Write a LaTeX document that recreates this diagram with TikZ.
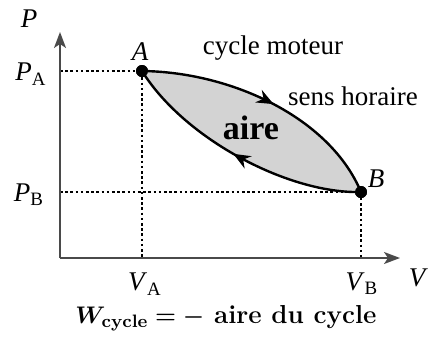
\documentclass[tikz,border=0pt]{standalone}
\usepackage{bm}
\usepackage[no-math]{fontspec}
\setmainfont{Liberation Serif}
\newfontfamily\lmfont{Latin Modern Roman}
\usetikzlibrary{arrows.meta,decorations.markings}
\definecolor{axisgray}{HTML}{4A4A4A}
\definecolor{cyclefill}{HTML}{D3D3D3}

\begin{document}
\begin{tikzpicture}[
        x=0.5pt,y=-0.5pt,
        axis/.style={draw=axisgray,line width=0.9pt,-{Stealth[length=8pt,width=6pt,inset=2pt]}},
        guide/.style={draw=black,line width=0.55pt,dash pattern=on 1.3pt off 1.3pt},
        curve/.style={draw=black,line width=1.2pt},
        dot/.style={circle,fill=black,inner sep=0pt,minimum size=6pt},
        lbl/.style={font=\fontsize{13.5}{15}\selectfont,inner sep=1pt},
        txt/.style={font=\fontsize{13.5}{15}\selectfont,inner sep=1pt},
        bigtxt/.style={font=\fontsize{17}{19}\selectfont\bfseries,inner sep=1pt},
        formula/.style={font=\fontsize{13}{15}\selectfont\lmfont\bfseries,inner sep=1pt},
        midarrow/.style={postaction={decorate,decoration={markings,
                         mark=at position #1 with {\arrow{Stealth[length=8.5pt,width=7pt,inset=2.8pt]}}}}}
      ]
        \useasboundingbox (0,0) rectangle (430,344);
        % axes
        \coordinate (O) at (60,258);
        \coordinate (ptop) at (60,32);
        \coordinate (vend) at (400,258);
        \node[dot] (A) at (142,71) {};
        \node[dot] (B) at (361,192) {};
        % shaded cycle
        \fill[cyclefill] (A.center) .. controls (232,72) and (330,118) .. (B.center)
          .. controls (290,194) and (185,140) .. (A.center);
        \draw[guide] (A.center -| O) -- (A.center) -- (A.center |- O);
        \draw[guide] (B.center -| O) -- (B.center) -- (B.center |- O);
        \draw[axis] (O) -- (ptop);
        \draw[axis] (O) -- (vend);
        \draw[curve,midarrow=0.52] (A.center) .. controls (232,72) and (330,118) .. (B.center);
        \draw[curve,midarrow=0.52] (B.center) .. controls (290,194) and (185,140) .. (A.center);
        \node[dot] at (A) {};
        \node[dot] at (B) {};
        % labels
        \node[lbl] (plab) at (29,19) {\itshape P};
        \node[lbl] (pa) at (31,74) {\textit{P}\textsubscript{A}};
        \node[lbl] (pb) at (29,195) {\textit{P}\textsubscript{B}};
        \node[lbl] (alab) at (140,52) {\itshape A};
        \node[lbl] (blab) at (376,179) {\itshape B};
        \node[lbl] (va) at (145,284) {\textit{V}\textsubscript{A}};
        \node[lbl] (vb) at (362,284) {\textit{V}\textsubscript{B}};
        \node[lbl] (vlab) at (417,278) {\itshape V};
        \node[txt] (moteur) at (273,48) {cycle moteur};
        \node[txt] (horaire) at (353,96) {sens horaire};
        \node[bigtxt] (aire) at (251,128) {aire};
        \node[formula] (wcycle) at (226,318) {$\bm{W}_{\mathbf{cycle}}\bm{=}\bm{-}$ aire du cycle};
      \end{tikzpicture}
\end{document}
